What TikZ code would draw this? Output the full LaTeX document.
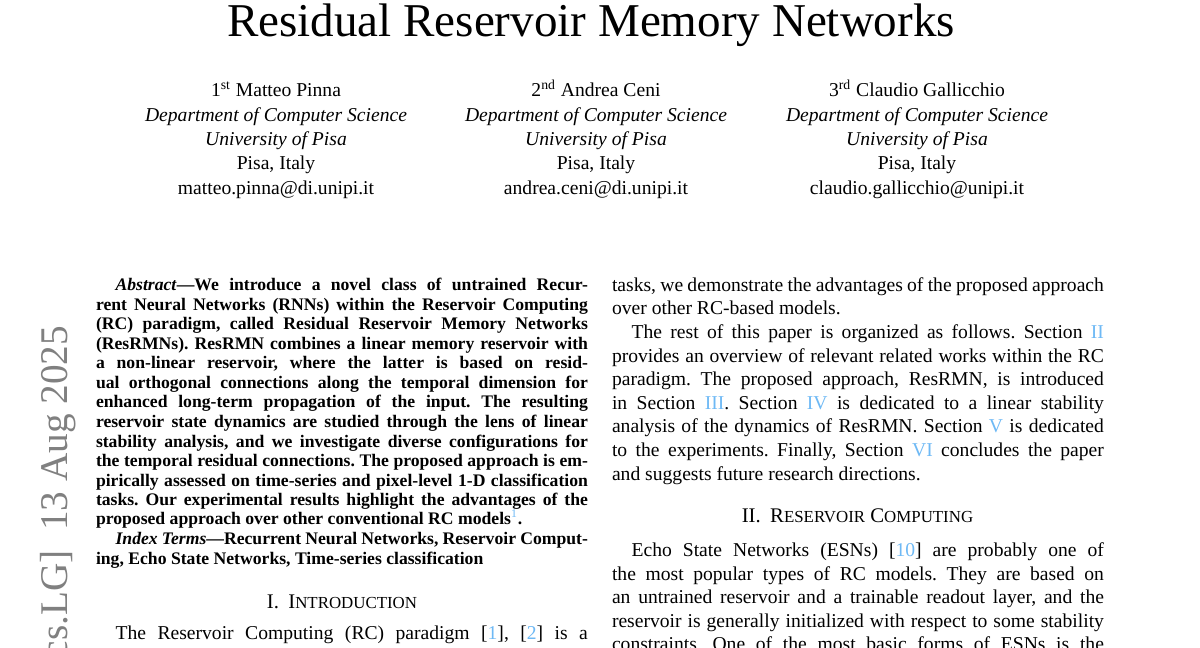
\documentclass[tikz,border=0pt]{standalone}
\usepackage{fontspec}
\setmainfont{Liberation Serif}
\usepackage{xcolor}
\frenchspacing
\definecolor{citeblue}{RGB}{110,185,245}
\definecolor{stampgray}{RGB}{128,128,128}
\newlength\colw \setlength\colw{250.9pt}
\newlength\indw \setlength\indw{240.9pt}
\newcommand\jl[6]{\node[#2] (#1) at (#3,#4) {\makebox[#5][s]{#6}};}
\newcommand\lastl[6]{\node[#2] (#1) at (#3,#4) {\makebox[#5][l]{#6}};}
\newcommand\cb[1]{{\color{citeblue}#1}}
\newcommand\smc[1]{{\fontsize{8.6}{10}\selectfont #1}}
\tikzset{
  txt/.style={anchor=base west, inner sep=0pt, outer sep=0pt},
  abs/.style={txt, font=\fontsize{9}{10}\selectfont\bfseries},
  body/.style={txt, font=\fontsize{10}{12}\selectfont},
  ctr/.style={anchor=base, inner sep=0pt, outer sep=0pt, font=\fontsize{10}{12}\selectfont},
  heading/.style={anchor=base, inner sep=0pt, outer sep=0pt, font=\fontsize{10.6}{12}\selectfont},
  titlestyle/.style={anchor=base, inner sep=0pt, outer sep=0pt, font=\fontsize{24}{28}\selectfont},
  stamp/.style={anchor=base east, inner sep=0pt, outer sep=0pt, rotate=90, text=stampgray, font=\fontsize{20}{24}\selectfont},
}
\begin{document}
\begin{tikzpicture}[x=0.51pt, y=-0.51pt]
\useasboundingbox (0,0) rectangle (1200,648);
\fill[white] (0,0) rectangle (1200,648);
\begin{scope}
\clip (0,0) rectangle (1200,648);
% title
\node[titlestyle] (title) at (591,37) {Residual Reservoir Memory Networks};
% authors
\node[ctr] (n1) at (276,97) {1\textsuperscript{st} Matteo Pinna};
\node[ctr] (d1) at (276,122) {\itshape Department of Computer Science};
\node[ctr] (u1) at (276,146) {\itshape University of Pisa};
\node[ctr] (p1) at (276,170) {Pisa, Italy};
\node[ctr] (e1) at (276,194.5) {matteo.pinna@di.unipi.it};
\node[ctr] (n2) at (596,97) {2\textsuperscript{nd} Andrea Ceni};
\node[ctr] (d2) at (596,122) {\itshape Department of Computer Science};
\node[ctr] (u2) at (596,146) {\itshape University of Pisa};
\node[ctr] (p2) at (596,170) {Pisa, Italy};
\node[ctr] (e2) at (596,194.5) {andrea.ceni@di.unipi.it};
\node[ctr] (n3) at (917,97) {3\textsuperscript{rd} Claudio Gallicchio};
\node[ctr] (d3) at (917,122) {\itshape Department of Computer Science};
\node[ctr] (u3) at (917,146) {\itshape University of Pisa};
\node[ctr] (p3) at (917,170) {Pisa, Italy};
\node[ctr] (e3) at (917,194.5) {claudio.gallicchio@unipi.it};
% arXiv stamp
\node[stamp] (stamp) at (68,326) {[cs.LG]\hspace{0.5em}13 Aug 2025};
% abstract
\jl{a1}{abs}{115.6}{291}{\indw}{\textit{Abstract}—We introduce a novel class of untrained Recur-}
\jl{a2}{abs}{96}{310.5}{\colw}{rent Neural Networks (RNNs) within the Reservoir Computing}
\jl{a3}{abs}{96}{330}{\colw}{(RC) paradigm, called Residual Reservoir Memory Networks}
\jl{a4}{abs}{96}{349.5}{\colw}{(ResRMNs). ResRMN combines a linear memory reservoir with}
\jl{a5}{abs}{96}{369}{\colw}{a non-linear reservoir, where the latter is based on resid-}
\jl{a6}{abs}{96}{388.5}{\colw}{ual orthogonal connections along the temporal dimension for}
\jl{a7}{abs}{96}{408}{\colw}{enhanced long-term propagation of the input. The resulting}
\jl{a8}{abs}{96}{427.5}{\colw}{reservoir state dynamics are studied through the lens of linear}
\jl{a9}{abs}{96}{447}{\colw}{stability analysis, and we investigate diverse configurations for}
\jl{a10}{abs}{96}{466.5}{\colw}{the temporal residual connections. The proposed approach is em-}
\jl{a11}{abs}{96}{486}{\colw}{pirically assessed on time-series and pixel-level 1-D classification}
\jl{a12}{abs}{96}{505.5}{\colw}{tasks. Our experimental results highlight the advantages of the}
\lastl{a13}{abs}{96}{525}{\colw}{proposed approach over other conventional RC models\textsuperscript{\mdseries\cb{1}}.}
\jl{a14}{abs}{115.6}{544.5}{\indw}{\textit{Index Terms}—Recurrent Neural Networks, Reservoir Comput-}
\lastl{a15}{abs}{96}{564}{\colw}{ing, Echo State Networks, Time-series classification}
% section I
\node[heading] (h1) at (342,608) {I.\hspace{0.45em}I\smc{NTRODUCTION}};
\jl{b1}{body}{115.6}{639}{\indw}{The Reservoir Computing (RC) paradigm [\cb{1}], [\cb{2}] is a}
% right column
\jl{r1}{body}{612}{291.5}{\colw}{tasks, we demonstrate the advantages of the proposed approach}
\lastl{r2}{body}{612}{315}{\colw}{over other RC-based models.}
\jl{r3}{body}{631.6}{338.6}{\indw}{The rest of this paper is organized as follows. Section \cb{II}}
\jl{r4}{body}{612}{362.2}{\colw}{provides an overview of relevant related works within the RC}
\jl{r5}{body}{612}{385.7}{\colw}{paradigm. The proposed approach, ResRMN, is introduced}
\jl{r6}{body}{612}{409.3}{\colw}{in Section \cb{III}. Section \cb{IV} is dedicated to a linear stability}
\jl{r7}{body}{612}{432.8}{\colw}{analysis of the dynamics of ResRMN. Section \cb{V} is dedicated}
\jl{r8}{body}{612}{456.4}{\colw}{to the experiments. Finally, Section \cb{VI} concludes the paper}
\lastl{r9}{body}{612}{480}{\colw}{and suggests future research directions.}
% section II
\node[heading] (h2) at (857.5,522) {II.\hspace{0.45em}R\smc{ESERVOIR} C\smc{OMPUTING}};
\jl{r10}{body}{631.6}{556.5}{\indw}{Echo State Networks (ESNs) [\cb{10}] are probably one of}
\jl{r11}{body}{612}{580}{\colw}{the most popular types of RC models. They are based on}
\jl{r12}{body}{612}{603.6}{\colw}{an untrained reservoir and a trainable readout layer, and the}
\jl{r13}{body}{612}{627.2}{\colw}{reservoir is generally initialized with respect to some stability}
\jl{r14}{body}{612}{650.7}{\colw}{constraints. One of the most basic forms of ESNs is the}
\end{scope}
\end{tikzpicture}
\end{document}
